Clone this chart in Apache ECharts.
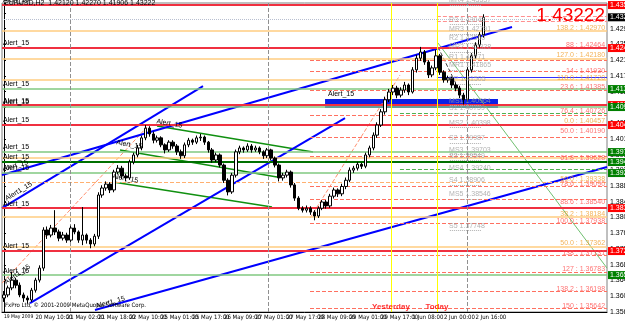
<!DOCTYPE html>
<html>
<head>
<meta charset="utf-8">
<script src="https://cdn.jsdelivr.net/npm/echarts@6/dist/echarts.min.js"></script>
<style>
html, body { margin: 0; padding: 0; background: #fff; }
#main { width: 625px; height: 322px; }
</style>
</head>
<body>
<div id="main"></div>
<script>
// H2 bars: [open, close, low, high]
var bars = [
[1.3600,1.3608,1.3590,1.3618],[1.3608,1.3626,1.3602,1.3632],[1.3626,1.3646,1.3620,1.3668],[1.3646,1.3633,1.3625,1.3652],
[1.3633,1.3608,1.3602,1.3640],[1.3608,1.3600,1.3590,1.3614],[1.3600,1.3595,1.3585,1.3606],[1.3595,1.3620,1.3590,1.3626],
[1.3620,1.3646,1.3614,1.3652],[1.3646,1.3677,1.3640,1.3684],[1.3677,1.3775,1.3670,1.3782],[1.3775,1.3762,1.3752,1.3784],
[1.3762,1.3780,1.3756,1.3788],[1.3780,1.3770,1.3762,1.3826],[1.3770,1.3754,1.3746,1.3776],[1.3754,1.3762,1.3748,1.3770],
[1.3762,1.3749,1.3742,1.3768],[1.3749,1.3780,1.3744,1.3786],[1.3780,1.3770,1.3764,1.3790],[1.3770,1.3749,1.3742,1.3774],
[1.3749,1.3762,1.3736,1.3834],[1.3762,1.3749,1.3740,1.3766],[1.3749,1.3739,1.3728,1.3754],[1.3739,1.3759,1.3733,1.3765],
[1.3759,1.3865,1.3752,1.3872],[1.3865,1.3883,1.3858,1.3890],[1.3883,1.3893,1.3876,1.3900],[1.3893,1.3878,1.3870,1.3898],
[1.3878,1.3924,1.3872,1.3930],[1.3924,1.3934,1.3918,1.3942],[1.3934,1.3914,1.3906,1.3940],[1.3914,1.3909,1.3900,1.3920],
[1.3909,1.3950,1.3904,1.3956],[1.3950,1.3968,1.3944,1.3974],[1.3968,1.3986,1.3962,1.3994],[1.3986,1.4012,1.3980,1.4018],
[1.4012,1.4037,1.4006,1.4045],[1.4037,1.4022,1.4015,1.4042],[1.4022,1.4006,1.3998,1.4028],[1.4006,1.4012,1.4000,1.4018],
[1.4012,1.3994,1.3988,1.4016],[1.3994,1.3981,1.3972,1.3998],[1.3981,1.4001,1.3976,1.4006],[1.4001,1.3991,1.3984,1.4006],
[1.3991,1.3976,1.3968,1.3996],[1.3976,1.3966,1.3958,1.3982],[1.3966,1.3994,1.3960,1.4000],[1.3994,1.4006,1.3988,1.4012],
[1.4006,1.4001,1.3994,1.4010],[1.4001,1.4012,1.3996,1.4018],[1.4012,1.4014,1.4004,1.4022],[1.4014,1.4001,1.3994,1.4018],
[1.4001,1.3981,1.3974,1.4004],[1.3981,1.3955,1.3948,1.3986],[1.3955,1.3968,1.3950,1.3974],[1.3968,1.3942,1.3936,1.3972],
[1.3942,1.3903,1.3896,1.3946],[1.3903,1.3873,1.3864,1.3908],[1.3873,1.3916,1.3868,1.3922],[1.3916,1.3976,1.3910,1.3982],
[1.3976,1.3986,1.3970,1.3992],[1.3986,1.3981,1.3974,1.3990],[1.3981,1.3991,1.3976,1.3998],[1.3991,1.3981,1.3974,1.3996],
[1.3981,1.3986,1.3976,1.3992],[1.3986,1.3976,1.3970,1.3990],[1.3976,1.3966,1.3958,1.3980],[1.3966,1.3981,1.3960,1.3986],
[1.3981,1.3960,1.3954,1.3984],[1.3960,1.3942,1.3936,1.3964],[1.3942,1.3909,1.3900,1.3946],[1.3909,1.3916,1.3902,1.3922],
[1.3916,1.3924,1.3910,1.3930],[1.3924,1.3891,1.3884,1.3928],[1.3891,1.3857,1.3850,1.3896],[1.3857,1.3831,1.3826,1.3862],
[1.3831,1.3826,1.3820,1.3836],[1.3826,1.3831,1.3820,1.3838],[1.3831,1.3821,1.3814,1.3836],[1.3821,1.3811,1.3800,1.3826],
[1.3811,1.3831,1.3806,1.3836],[1.3831,1.3847,1.3826,1.3852],[1.3847,1.3837,1.3830,1.3852],[1.3837,1.3862,1.3832,1.3868],
[1.3862,1.3878,1.3856,1.3884],[1.3878,1.3868,1.3860,1.3882],[1.3868,1.3887,1.3862,1.3894],[1.3887,1.3903,1.3880,1.3910],
[1.3903,1.3929,1.3898,1.3936],[1.3929,1.3934,1.3922,1.3940],[1.3934,1.3944,1.3928,1.3950],[1.3944,1.3939,1.3932,1.3948],
[1.3939,1.3968,1.3934,1.3974],[1.3968,1.3986,1.3962,1.3992],[1.3986,1.4019,1.3980,1.4026],[1.4019,1.4045,1.4012,1.4052],
[1.4045,1.4079,1.4040,1.4086],[1.4079,1.4110,1.4072,1.4118],[1.4110,1.4130,1.4104,1.4138],[1.4130,1.4140,1.4122,1.4148],
[1.4140,1.4122,1.4114,1.4146],[1.4122,1.4135,1.4116,1.4142],[1.4135,1.4148,1.4128,1.4156],[1.4148,1.4130,1.4122,1.4152],
[1.4130,1.4187,1.4126,1.4194],[1.4187,1.4217,1.4180,1.4226],[1.4217,1.4233,1.4210,1.4246],[1.4233,1.4207,1.4200,1.4238],
[1.4207,1.4174,1.4166,1.4212],[1.4174,1.4192,1.4168,1.4198],[1.4192,1.4223,1.4186,1.4238],[1.4223,1.4181,1.4174,1.4228],
[1.4181,1.4161,1.4154,1.4186],[1.4161,1.4166,1.4154,1.4172],[1.4166,1.4148,1.4140,1.4170],[1.4148,1.4140,1.4132,1.4154],
[1.4140,1.4122,1.4114,1.4146],[1.4122,1.4110,1.4098,1.4128],[1.4110,1.4187,1.4104,1.4194],[1.4187,1.4223,1.4180,1.4230],
[1.4223,1.4251,1.4216,1.4258],[1.4251,1.4277,1.4244,1.4284],[1.4277,1.4322,1.4270,1.4330]
];
var lastPrice = 1.43222;

var timeLabels = ['19 May 2009','20 May 10:00','21 May 02:00','21 May 18:00','22 May 10:00','25 May 01:00',
  '25 May 17:00','26 May 09:00','27 May 01:00','27 May 17:00','28 May 09:00','29 May 01:00','29 May 17:00',
  '1 Jun 08:00','2 Jun 00:00','2 Jun 16:00'];
var priceTicks = ['1.35640','1.36050','1.36460','1.36870','1.37250','1.37660','1.38060','1.38470','1.38880',
  '1.39280','1.39690','1.40100','1.40500','1.40900','1.41300','1.41710','1.42120','1.42520','1.42920'];

// horizontal alert levels (full width)
var redAlerts = [1.43537, 1.42431, 1.40964, 1.40450, 1.38314, 1.37208];
var greenAlerts = [1.41376, 1.40913, 1.39755, 1.39215, 1.36590];
var darkGreenAlerts = [1.39498];
var orangeLevels = [1.42868, 1.42148, 1.41606, 1.39601, 1.38082, 1.37311];
var orangeDashLevels = [1.38983];
var grayDotLevels = [1.43177];

// fibo levels (partial width)
var fiboRed = [1.42122, 1.41839, 1.41350, 1.40707, 1.40141, 1.39652, 1.38880, 1.38546, 1.37928, 1.37105, 1.36667, 1.36179, 1.35741];
var fiboRedToday = [1.43254, 1.43126];
var fiboGreen = [1.40759, 1.39318];
var todayOpen = 1.41685;

var fiboOrangeText = ['138.2 : 1.42970','127.0 : 1.42180','118.0 : 1.41720','0.0 : 1.40457','50.0 : 1.39338','38.2 : 1.38184','50.0 : 1.37362'];
var fiboOrangeAt = [1.42946, 1.42251, 1.41659, 1.40553, 1.39061, 1.38160, 1.37414];
var fiboRedText = ['88 : 1.42464','14 : 1.41930','23.6 : 1.41385','76.4 : 1.40726','50.0 : 1.40190','61.8 : 1.39628',
  '78.6 : 1.39090','88.6 : 1.38540','100.0 : 1.37938','138 : 1.37131','127 : 1.36783','138.2 : 1.36198','150 : 1.35642'];
var fiboRedAt = [1.42508, 1.41839, 1.41428, 1.40810, 1.40296, 1.39601, 1.38932, 1.38469, 1.37980, 1.37157, 1.36745, 1.36230, 1.35793];

// pivots
var pivotNames = ['MR4','R3','MR3','R2','MR2','R1','MR1','PP','MS1','S1','MS2','S2','MS3','S3','MS4','S4','MS5','S5'];
var pivotPrices = [1.43537, 1.43048, 1.42791, 1.42560, 1.42328, 1.42071, 1.41865, 1.41505, 1.40964, 1.40759,
  1.40398, 1.39987, 1.39703, 1.39549, 1.39240, 1.38906, 1.38546, 1.37748];

// trend lines [bar, price]
var blueLineA = [[-0.5, 1.38314], [50.66, 1.41453]];
var blueLineB = [[-0.5, 1.39163], [129.32, 1.42971]];
var blueLineC = [[6.63, 1.35870], [86.81, 1.40630]];
var blueLineD = [[23.17, 1.35690], [153.5, 1.39369]];
var chanUpper = [[38.95, 1.40424], [78.66, 1.39755]];
var chanMiddle = [[29.54, 1.39807], [69.5, 1.39112]];
var chanLower = [[27.75, 1.38983], [68.23, 1.38340]];
var greenThin = [[110.48, 1.42560], [153.5, 1.36770]];
var fiboDiag1 = [[-0.5, 1.36384], [36.41, 1.40398]];
var fiboDiag2 = [[77.91, 1.38057], [100.81, 1.41736]];
var fiboDiag3 = [[110.48, 1.42457], [117.1, 1.41093]];
var alertBox = [[81.73, 1.41119], [125.75, 1.40887]];

var weekSeps = [16.8, 67.2, 117.9];
var dayLines = [98.5, 110.2];
var dayNames = ['Yesterday', 'Today'];

var FONT = 'Liberation Sans';
var NARROW = '"Liberation Sans Narrow", "DejaVu Sans Condensed", "Liberation Sans"';
var nBars = 154;
var cats = [];
for (var i = 0; i < nBars; i++) cats.push(String(i));

function full(list, color, width, type, withLabel) {
  return list.map(function (p) {
    return {
      yAxis: p,
      lineStyle: { color: color, width: width, type: type },
      label: withLabel ? { show: true, position: 'insideStartTop', formatter: 'Alert_15', color: '#000', fontSize: 7, fontFamily: FONT, distance: 1 } : { show: false }
    };
  });
}
function boxes(list, bg) {
  return list.map(function (p) {
    return {
      yAxis: p,
      lineStyle: { color: 'rgba(0,0,0,0)', width: 0 },
      label: { show: true, position: 'end', distance: 1, formatter: p.toFixed(5), color: '#fff', backgroundColor: bg,
        fontSize: 7, fontFamily: FONT, padding: [1, 2, 0, 2] }
    };
  });
}
function part(list, from, to, color, type) {
  return list.map(function (p) {
    return [{ coord: [from, p], lineStyle: { color: color, width: 1, type: type } }, { coord: [to, p] }];
  });
}
function trend(data, color, width, type, z) {
  return { type: 'line', xAxisIndex: 1, data: data, showSymbol: false, silent: true, z: z || 3,
    lineStyle: { color: color, width: width, type: type || 'solid' } };
}
function texts(at, txt, x, color, pos) {
  return { type: 'scatter', xAxisIndex: 1, symbolSize: 0, silent: true, z: 6,
    data: at.map(function (p, i) { return { value: [x, p], label: { formatter: txt[i] } }; }),
    label: { show: true, position: pos, distance: 0, color: color, fontSize: 7, fontFamily: FONT } };
}

var myChart = echarts.init(document.getElementById('main'));
myChart.setOption({
  animation: false,
  backgroundColor: '#ffffff',
  grid: { left: 2, right: 18, top: 3, bottom: 10, containLabel: false, outerBoundsMode: 'none',
    show: true, borderColor: '#808080', borderWidth: 1 },
  xAxis: [{
    type: 'category', data: cats, boundaryGap: true,
    axisLine: { lineStyle: { color: '#000' } },
    axisTick: { interval: 7, length: 3, lineStyle: { color: '#000' } },
    axisLabel: { interval: 7, fontSize: 6, fontFamily: NARROW, color: '#000', align: 'left', margin: 2,
      hideOverlap: false, showMinLabel: true,
      rich: { first: { fontSize: 5, fontFamily: NARROW, color: '#000' } },
      formatter: function (v) {
        var k = parseInt(v, 10) / 8;
        if (!timeLabels[k]) return '';
        return k === 0 ? '{first|' + timeLabels[k] + '}' : timeLabels[k];
      } },
    splitLine: { show: false }
  }, {
    type: 'value', min: -0.5, max: nBars - 0.5, show: false
  }],
  yAxis: {
    type: 'value', position: 'right', min: 1.3564, max: 1.4359, interval: 0.00405, scale: true,
    axisLine: { show: true, lineStyle: { color: '#000' } },
    axisTick: { show: true, length: 2, lineStyle: { color: '#000' } },
    splitLine: { show: false },
    axisLabel: { fontSize: 7, fontFamily: FONT, color: '#000', margin: 3, overflow: 'none', width: 60,
      formatter: function (v) {
        var k = Math.round((v - 1.3564) / 0.00405);
        if (k < 0 || k >= priceTicks.length || Math.abs(v - (1.3564 + k * 0.00405)) > 0.0005) return '';
        return priceTicks[k];
      } }
  },
  graphic: [
    { type: 'text', left: 4, top: 0, z: 20, style: { text: 'EURUSD,H2  1.42120 1.42270 1.41906 1.43222', fontSize: 7, fontFamily: FONT, fill: '#000' } },
    { type: 'text', x: 605, y: 6, z: 20, style: { text: '1.43222', fontSize: 19, fontFamily: FONT, fill: '#ff0000', align: 'right' } },
    { type: 'text', left: 5, top: 302, z: 20, style: { text: 'FxPro Ltd, © 2001-2009 MetaQuotes Software Corp.', fontSize: 6, fontFamily: NARROW, fill: '#000' } },
    { type: 'text', x: 2, y: 166, rotation: 0.28, z: 20, style: { text: 'Alert_15', fontSize: 7, fontFamily: FONT, fill: '#000' } },
    { type: 'text', x: 4, y: 196, rotation: 0.54, z: 20, style: { text: 'Alert1_15', fontSize: 7, fontFamily: FONT, fill: '#000' } },
    { type: 'text', x: 3, y: 280, rotation: 0.6, z: 20, style: { text: 'Alert1_15', fontSize: 7, fontFamily: FONT, fill: '#000' } },
    { type: 'text', x: 95, y: 303, rotation: 0.27, z: 20, style: { text: 'Alert1_15', fontSize: 7, fontFamily: FONT, fill: '#000' } },
    { type: 'text', x: 157, y: 118, rotation: -0.16, z: 20, style: { text: 'Alert_15', fontSize: 7, fontFamily: FONT, fill: '#000' } },
    { type: 'text', x: 117, y: 139, rotation: -0.17, z: 20, style: { text: 'Alert_15', fontSize: 7, fontFamily: FONT, fill: '#000' } },
    { type: 'text', x: 113, y: 173, rotation: -0.16, z: 20, style: { text: 'Alert_15', fontSize: 7, fontFamily: FONT, fill: '#000' } },
    { type: 'text', x: 328, y: 91, z: 20, style: { text: 'Alert_15', fontSize: 7, fontFamily: FONT, fill: '#000' } }
  ],
  series: [
    {
      type: 'line', xAxisIndex: 1, data: [], silent: true, z: 2,
      markLine: {
        silent: true, symbol: ['none', 'none'], precision: 5,
        data: [].concat(
          full(grayDotLevels, '#b8bfd0', 1, 'dotted', false),
          full(orangeLevels, '#ffcc80', 1.5, 'solid', false),
          full(orangeDashLevels, '#ffb070', 1, 'dashed', false),
          full(redAlerts, '#f03040', 2, 'solid', true),
          full(greenAlerts, '#80c880', 1.5, 'solid', true),
          full(darkGreenAlerts, '#007000', 2, 'solid', true),
          part(fiboRed, 77.9, 153.5, '#ff7060', 'dashed'),
          part(fiboRedToday, 110.2, 153.5, '#ff9090', 'dashed'),
          part(fiboGreen, 100.8, 153.5, '#50b050', 'dashed'),
          part([todayOpen], 110.2, 153.5, '#3030ff', 'solid'),
          part(pivotPrices, 113.5, 121.6, '#b0b0b0', 'dotted'),
          weekSeps.map(function (x) { return { xAxis: x, lineStyle: { color: '#909090', width: 1, type: 'dashed' } }; }),
          dayLines.map(function (x) { return { xAxis: x, lineStyle: { color: '#ffff00', width: 1, type: 'solid' } }; })
        ),
        label: { show: false }
      },
      markArea: {
        silent: true,
        itemStyle: { color: '#0a1ee6' },
        data: [[{ coord: alertBox[0] }, { coord: alertBox[1] }]]
      }
    },
    trend(fiboDiag1, '#ff9070', 1, 'dashed'),
    trend(fiboDiag2, '#ff9070', 1, 'dashed'),
    trend(fiboDiag3, '#404040', 1, 'dashed'),
    trend(greenThin, '#70c070', 1),
    trend(chanUpper, '#109010', 1.5),
    trend(chanMiddle, '#109010', 1.5),
    trend(chanLower, '#109010', 1.5),
    trend(blueLineA, '#0000ff', 2),
    trend(blueLineB, '#0000ff', 2),
    trend(blueLineC, '#0000ff', 2),
    trend(blueLineD, '#0000ff', 2),
    {
      type: 'candlestick', data: bars, barWidth: 3, z: 5, silent: true,
      itemStyle: { color: '#ffffff', color0: '#000000', borderColor: '#000000', borderColor0: '#000000', borderWidth: 1 }
    },
    texts(fiboOrangeAt, fiboOrangeText, 153, '#f0a030', 'left'),
    texts(fiboRedAt, fiboRedText, 153, '#ff5050', 'left'),
    {
      type: 'scatter', xAxisIndex: 1, symbolSize: 0, silent: true, z: 6,
      data: pivotPrices.map(function (p, i) { return { value: [113.3, p], label: { formatter: pivotNames[i] + ' ' + p.toFixed(5) } }; }),
      label: { show: true, position: [0, -8], color: '#a0a0a0', fontSize: 7, fontFamily: FONT }
    },
    {
      type: 'scatter', xAxisIndex: 1, symbolSize: 0, silent: true, z: 6,
      data: dayLines.map(function (x, i) { return { value: [x, 1.3577], label: { formatter: dayNames[i] } }; }),
      label: { show: true, position: 'inside', color: '#ff0000', fontWeight: 'bold', fontSize: 8, fontFamily: FONT }
    },
    {
      type: 'line', xAxisIndex: 1, data: [], silent: true, z: 8, clip: false,
      markLine: {
        silent: true, symbol: ['none', 'none'], precision: 5,
        data: [].concat(boxes(redAlerts, '#ff0000'), boxes(greenAlerts, '#008000'), boxes(darkGreenAlerts, '#008000'), boxes([lastPrice], '#000000'))
      }
    }
  ]
});
</script>
</body>
</html>
